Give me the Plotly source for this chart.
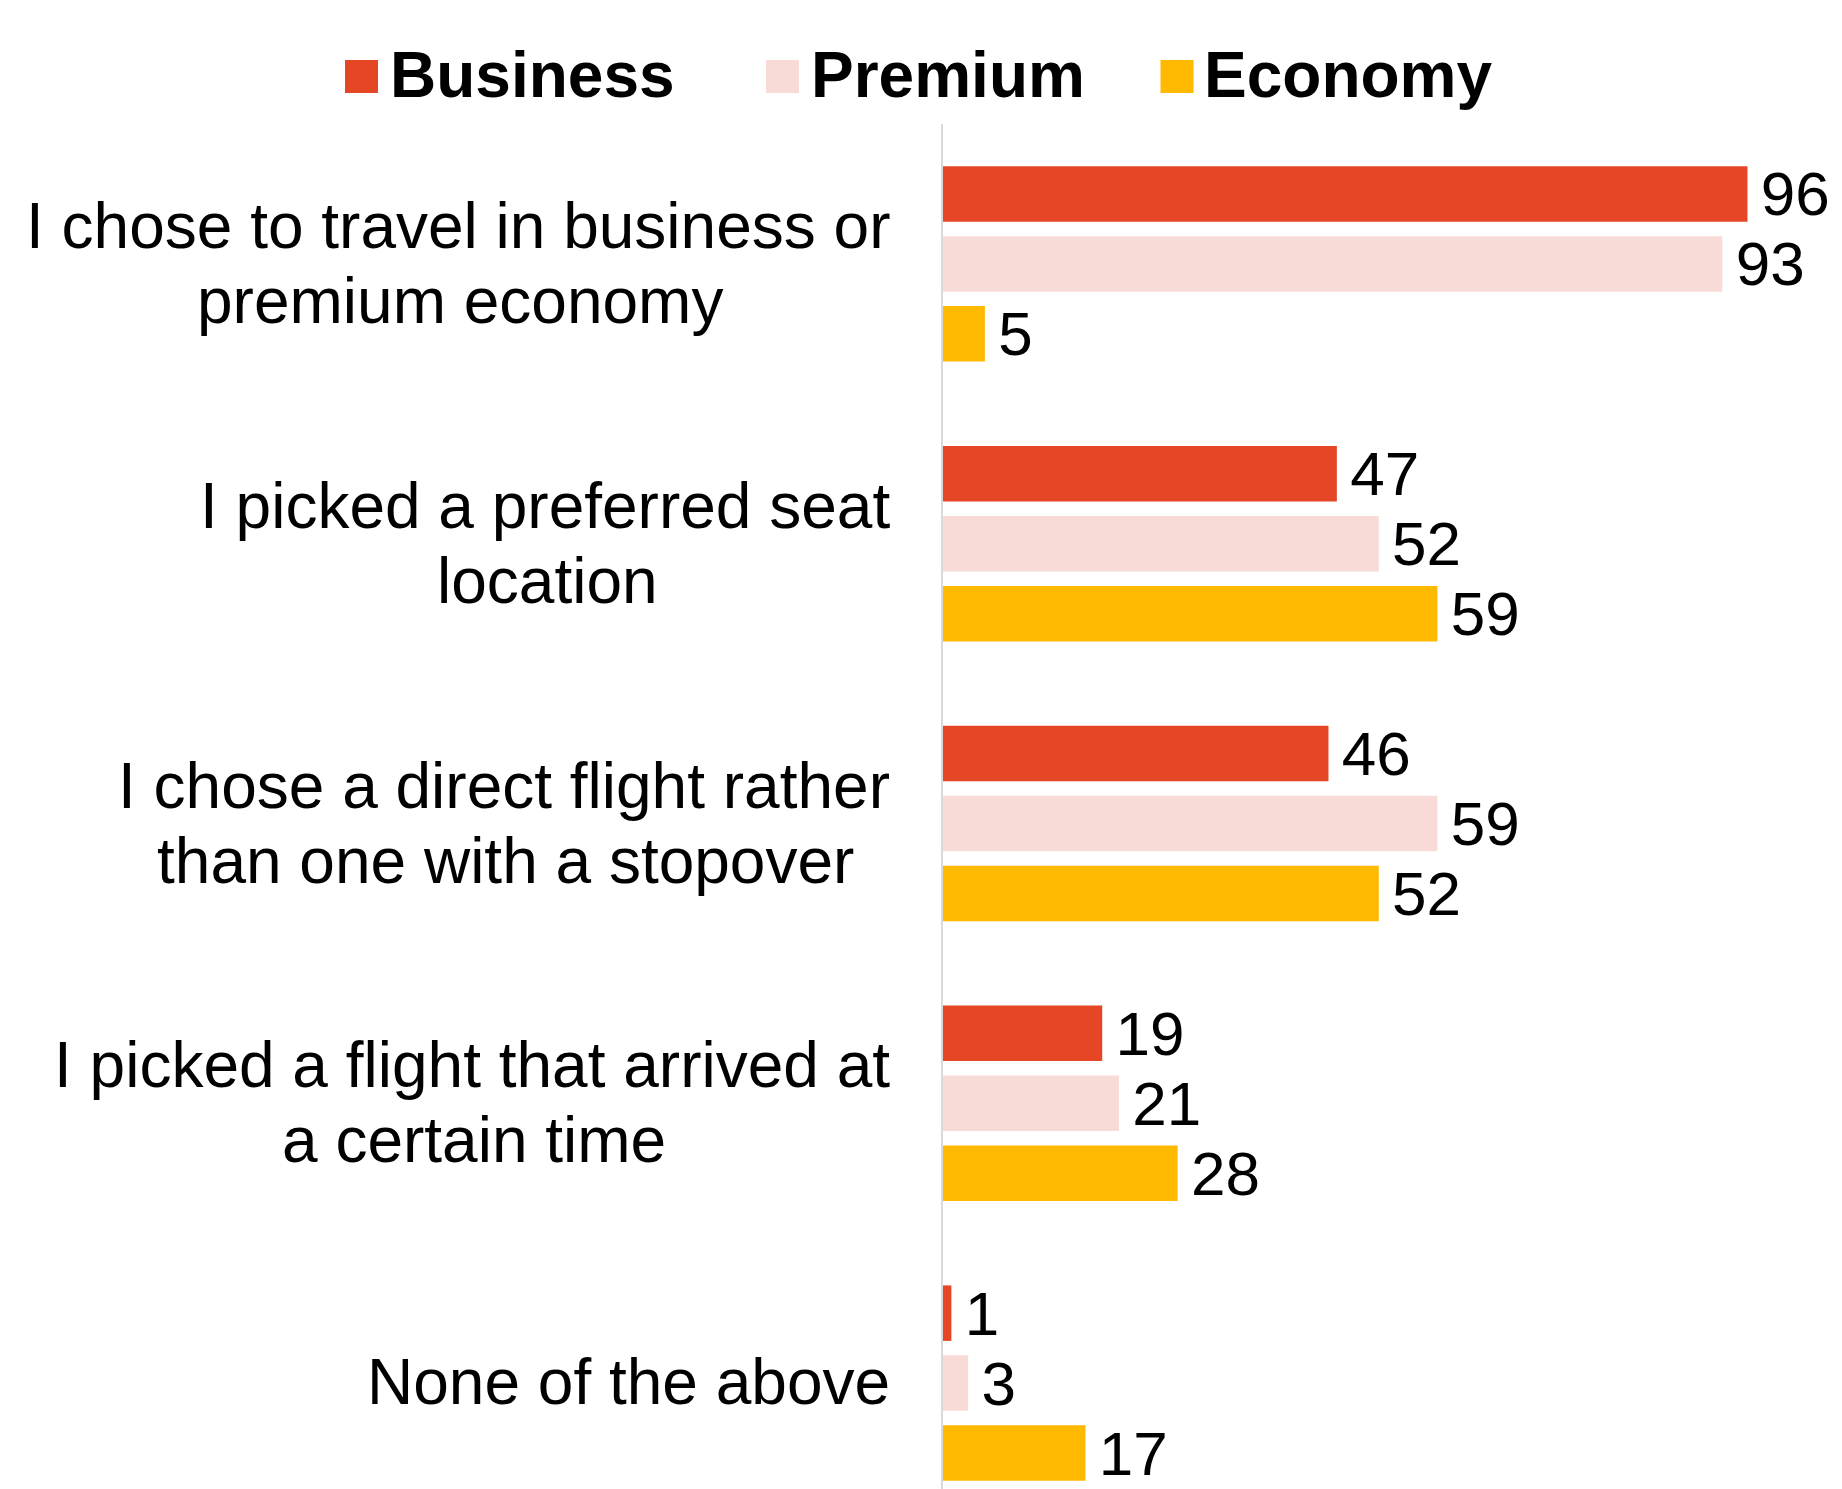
import plotly.graph_objects as go

# ---- data ----
categories = [
    "I chose to travel in business or premium economy",
    "I picked a preferred seat location",
    "I chose a direct flight rather than one with a stopover",
    "I picked a flight that arrived at a certain time",
    "None of the above",
]
label_lines = [
    ["I chose to travel in business or", "premium economy"],
    ["I picked a preferred seat", "location"],
    ["I chose a direct flight rather", "than one with a stopover"],
    ["I picked a flight that arrived at", "a certain time"],
    ["None of the above"],
]
series_names = ["Business", "Premium", "Economy"]
business = [96, 47, 46, 19, 1]
premium = [93, 52, 59, 21, 3]
economy = [5, 59, 52, 28, 17]
series_values = [business, premium, economy]
colors = ["#E54726", "#F8DAD6", "#FFB900"]

# ---- layout constants (pixels) ----
W, H = 1842, 1489
L, T = 943, 124
FONT = "Liberation Sans, Arial, sans-serif"
px_per_unit = 8.38
pitch = 279.8

fig = go.Figure()
for name, vals, col in zip(series_names, series_values, colors):
    fig.add_trace(go.Bar(
        y=categories, x=vals, name=name, orientation="h",
        marker=dict(color=col, line=dict(width=0)),
        texttemplate="\u2006%{x}", textposition="outside",
        textfont=dict(size=62, color="black", family=FONT),
        cliponaxis=False, constraintext="none", showlegend=False,
        hoverinfo="skip",
    ))

plot_w = W - L
plot_h = H - T
n_cat = plot_h / pitch

fig.update_layout(
    width=W, height=H,
    margin=dict(l=L, r=0, t=T, b=0, pad=0),
    plot_bgcolor="white", paper_bgcolor="white",
    barmode="group", bargap=0.25, bargroupgap=0.207,
    font=dict(family=FONT, color="black"),
    xaxis=dict(range=[0, plot_w / px_per_unit], visible=False, showgrid=False, zeroline=False),
    yaxis=dict(range=[n_cat - 0.5, -0.5], showticklabels=False, showgrid=False, zeroline=False,
               showline=True, linecolor="#D9D9D9", linewidth=2, ticks=""),
)

# category labels (centered lines, right-aligned block)
line_centers = [460, 547.5, 505, 474, None]
right_edge = 892
annotations = []
for cat, lines, cx in zip(categories, label_lines, line_centers):
    if len(lines) == 1:
        annotations.append(dict(text=lines[0], xref="paper", x=0, xanchor="right", xshift=right_edge - L,
                                yref="y", y=cat, yanchor="middle", yshift=1, showarrow=False,
                                font=dict(size=64, family=FONT, color="black")))
    else:
        annotations.append(dict(text=lines[0], xref="paper", x=0, xanchor="right", xshift=right_edge - L,
                                yref="y", y=cat, yanchor="middle", yshift=38, showarrow=False,
                                font=dict(size=64, family=FONT, color="black")))
        annotations.append(dict(text=lines[1], xref="paper", x=0, xanchor="center", xshift=cx - L,
                                yref="y", y=cat, yanchor="middle", yshift=-37, showarrow=False,
                                font=dict(size=64, family=FONT, color="black")))

# manual legend
sq_left = [345, 766, 1160.5]
txt_left = [387.5, 809, 1202]
shapes = []
for name, col, sx, tx in zip(series_names, colors, sq_left, txt_left):
    shapes.append(dict(type="rect", xref="paper", yref="paper", xsizemode="pixel", ysizemode="pixel",
                       xanchor=0, yanchor=1, x0=sx - L, x1=sx + 33 - L, y0=T - 93, y1=T - 60,
                       fillcolor=col, line=dict(width=0)))
    annotations.append(dict(text="<b>%s</b>" % name, xref="paper", x=0, xanchor="left", xshift=tx - L,
                            yref="paper", y=1, yanchor="middle", yshift=T - 74.5, showarrow=False,
                            font=dict(size=64, family=FONT, color="black")))

fig.update_layout(annotations=annotations, shapes=shapes, hovermode=False)
fig.write_html("out.html", config={"displayModeBar": False},
               post_script="document.body.style.margin='0';document.body.style.overflow='hidden';")
